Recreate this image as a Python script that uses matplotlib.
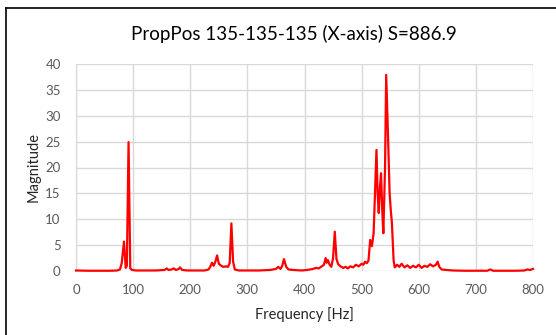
import matplotlib
matplotlib.use("Agg")
import matplotlib.pyplot as plt
from matplotlib.lines import Line2D

title = "PropPos 135-135-135 (X-axis) S=886.9"
x_label = "Frequency [Hz]"
y_label = "Magnitude"
x_ticks = [0, 100, 200, 300, 400, 500, 600, 700, 800]
y_ticks = [0, 5, 10, 15, 20, 25, 30, 35, 40]

freq = [0, 20, 40, 60, 72, 77, 80, 84, 87, 89, 92, 95, 98, 105, 120, 140, 155, 159, 162,
        168, 171, 175, 180, 182, 186, 195, 210, 225, 232, 235, 238, 241, 244, 247, 250, 253,
        258, 263, 266, 269, 272, 275, 278, 285, 300, 320, 340, 350, 354, 358, 361, 364, 368,
        372, 380, 395, 405, 415, 420, 425, 430, 434, 437, 439, 441, 444, 447, 450, 453, 456,
        459, 463, 468, 472, 476, 480, 485, 490, 495, 500, 503, 506, 509, 512, 515, 518, 521,
        523, 526, 528, 530, 532, 534, 536, 538, 541, 543, 546, 549, 551, 553, 556, 558, 562,
        566, 570, 575, 580, 585, 590, 595, 600, 605, 610, 615, 620, 625, 630, 633, 636, 640,
        648, 660, 680, 700, 720, 725, 730, 750, 770, 785, 790, 795, 800]
mag = [0.1, 0.05, 0.05, 0.05, 0.1, 0.3, 1.5, 5.7, 0.6, 1.0, 24.9, 0.5, 0.2, 0.1, 0.1, 0.1, 0.2, 0.5, 0.2,
       0.3, 0.5, 0.2, 0.4, 0.7, 0.2, 0.1, 0.1, 0.1, 0.3, 0.8, 1.6, 1.0, 1.8, 3.0, 1.4, 1.1,
       0.8, 0.9, 0.8, 1.5, 9.2, 1.8, 0.3, 0.1, 0.1, 0.1, 0.2, 0.4, 0.8, 0.4, 1.0, 2.3, 0.8,
       0.3, 0.2, 0.1, 0.2, 0.4, 0.6, 0.5, 0.9, 1.2, 2.5, 1.6, 2.1, 1.2, 0.8, 2.5, 7.6, 2.3,
       1.3, 0.9, 0.6, 0.8, 0.5, 0.9, 0.7, 1.2, 0.9, 1.4, 1.2, 1.8, 1.5, 2.0, 6.0, 4.8, 7.3,
       13.7, 23.4, 15.0, 11.2, 16.0, 18.9, 12.0, 7.3, 20.0, 37.9, 26.9, 15.0, 11.8, 9.3, 2.0, 0.7, 1.2,
       0.8, 1.4, 0.7, 1.1, 0.6, 1.0, 0.7, 1.2, 0.6, 1.0, 0.8, 1.3, 0.9, 1.2, 1.8, 0.8, 0.3,
       0.2, 0.1, 0.05, 0.05, 0.05, 0.3, 0.05, 0.05, 0.05, 0.1, 0.3, 0.2, 0.4]

plt.rcParams['font.family'] = ['Lato', 'DejaVu Sans']

fig = plt.figure(figsize=(5.56, 3.35), dpi=100)
ax = fig.add_axes([76/556, 1-271/335, (533-76)/556, (271-64)/335])

ax.plot(freq, mag, color='#FF0000', lw=1.6, solid_joinstyle='round', zorder=3, clip_on=False)

ax.set_xlim(0, 800)
ax.set_ylim(0, 40)
ax.set_xticks(x_ticks)
ax.set_yticks(y_ticks)
ax.grid(True, color='#D9D9D9', lw=1.0)
ax.set_axisbelow(True)
for s in ['top', 'right', 'bottom']:
    ax.spines[s].set_visible(False)
ax.spines['left'].set_color('#D9D9D9')
ax.tick_params(length=0, labelsize=9.5, colors='#595959')
ax.tick_params(axis='x', pad=9)
ax.tick_params(axis='y', pad=11)
ax.set_xlabel(x_label, fontsize=10.5, color='#262626', labelpad=8)
ax.set_ylabel(y_label, fontsize=10.5, color='#262626', labelpad=3)
fig.text(0.529, 0.90, title, ha='center', va='center', fontsize=13.5, color='#000000')

# outer chart border
fig.add_artist(Line2D([6/556, 1.0], [1-7.5/335, 1-7.5/335], transform=fig.transFigure, color='black', lw=1.2))
fig.add_artist(Line2D([6/556, 6/556], [0, 1-7.5/335], transform=fig.transFigure, color='black', lw=1.2))

fig.savefig('out.png', dpi=100)
